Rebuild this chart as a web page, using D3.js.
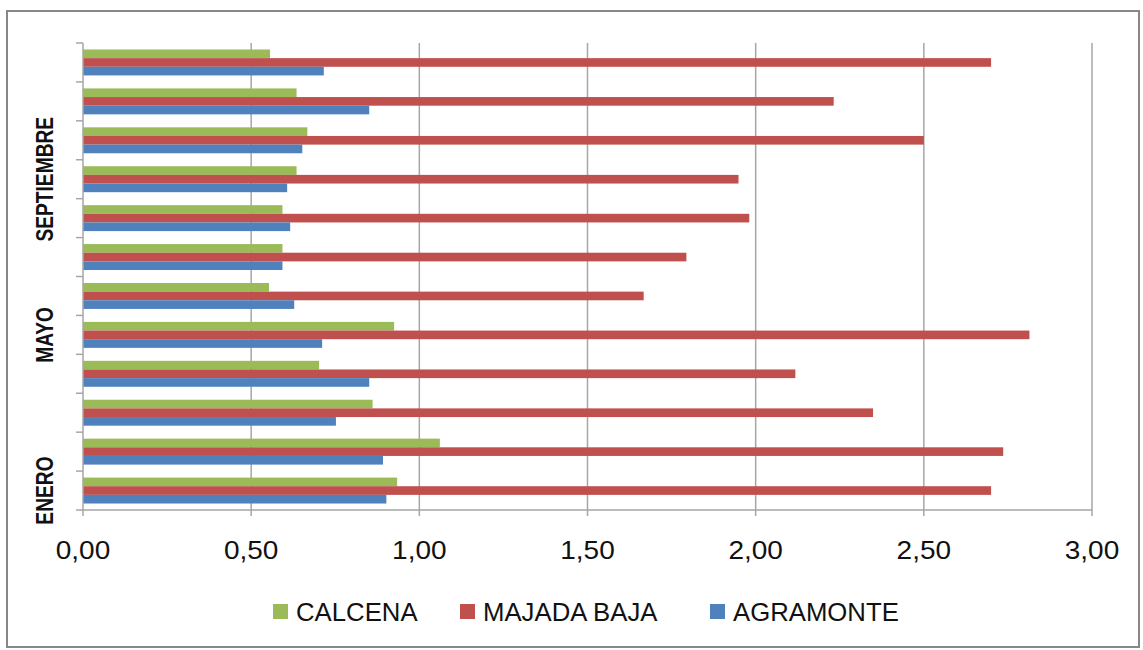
<!DOCTYPE html>
<html>
<head>
<meta charset="utf-8">
<script src="https://cdn.jsdelivr.net/npm/d3@7"></script>
<style>
  html, body { margin: 0; padding: 0; background: #ffffff; }
  svg { display: block; }
</style>
</head>
<body>
<svg id="chart" width="1143" height="650"></svg>
<script>
// ---- data ----
const months = ["ENERO","FEBRERO","MARZO","ABRIL","MAYO","JUNIO","JULIO","AGOSTO","SEPTIEMBRE","OCTUBRE","NOVIEMBRE","DICIEMBRE"];
const seriesNames = ["CALCENA","MAJADA BAJA","AGRAMONTE"];
const calcena   = [0.934, 1.061, 0.861, 0.702, 0.925, 0.553, 0.593, 0.593, 0.635, 0.667, 0.635, 0.556];
const majadaBaja = [2.700, 2.736, 2.349, 2.118, 2.814, 1.667, 1.794, 1.981, 1.949, 2.500, 2.232, 2.700];
const agramonte = [0.902, 0.892, 0.752, 0.851, 0.711, 0.628, 0.593, 0.616, 0.607, 0.652, 0.851, 0.716];
const xTicks = [0, 0.5, 1, 1.5, 2, 2.5, 3];
const labelEvery = 4;

const colors = { "CALCENA": "#9BBB59", "MAJADA BAJA": "#C0504D", "AGRAMONTE": "#4F81BD" };
const valuesBySeries = { "CALCENA": calcena, "MAJADA BAJA": majadaBaja, "AGRAMONTE": agramonte };

// ---- layout ----
const svg = d3.select("#chart");
const plot = { left: 83, right: 1092, top: 43, bottom: 510 };
const gridColor = "#a6a6a6";
const font = "'Liberation Sans', Arial, sans-serif";

svg.append("rect").attr("x", 0).attr("y", 0).attr("width", 1143).attr("height", 650).attr("fill", "#fff");
svg.append("rect")
  .attr("x", 7).attr("y", 11).attr("width", 1132).attr("height", 636)
  .attr("fill", "none").attr("stroke", "#878787").attr("stroke-width", 2);

const x = d3.scaleLinear().domain([0, 3]).range([plot.left, plot.right]);
const y = d3.scaleBand()
  .domain(months.slice().reverse())
  .range([plot.top, plot.bottom])
  .paddingInner(1/3).paddingOuter(1/6);
const ySub = d3.scaleBand().domain(seriesNames).range([0, y.bandwidth()]);
const yBound = d3.scaleLinear().domain([0, months.length]).range([plot.bottom, plot.top]);

// gridlines
svg.append("g").selectAll("line").data(xTicks.filter(d => d > 0)).join("line")
  .attr("x1", d => x(d)).attr("x2", d => x(d))
  .attr("y1", plot.top).attr("y2", plot.bottom)
  .attr("stroke", gridColor).attr("stroke-width", 1.5);

// bars
const rows = months.map((m, i) => ({ m, i }));
const groups = svg.append("g").selectAll("g").data(rows).join("g")
  .attr("transform", d => `translate(0,${y(d.m)})`);
groups.selectAll("rect").data(d => seriesNames.map(s => ({ s, v: valuesBySeries[s][d.i] }))).join("rect")
  .attr("x", x(0))
  .attr("y", d => ySub(d.s))
  .attr("width", d => x(d.v) - x(0))
  .attr("height", ySub.bandwidth())
  .attr("fill", d => colors[d.s]);

// left axis
svg.append("line")
  .attr("x1", x(0)).attr("x2", x(0)).attr("y1", plot.top).attr("y2", plot.bottom)
  .attr("stroke", gridColor).attr("stroke-width", 1.5);
svg.append("g").selectAll("line").data(d3.range(months.length + 1)).join("line")
  .attr("x1", x(0) - 7).attr("x2", x(0))
  .attr("y1", d => yBound(d)).attr("y2", d => yBound(d))
  .attr("stroke", gridColor).attr("stroke-width", 1.5);

// bottom axis
svg.append("line")
  .attr("x1", x(0)).attr("x2", x(3)).attr("y1", plot.bottom).attr("y2", plot.bottom)
  .attr("stroke", gridColor).attr("stroke-width", 1.5);
svg.append("g").selectAll("line").data(xTicks).join("line")
  .attr("x1", d => x(d)).attr("x2", d => x(d))
  .attr("y1", plot.bottom).attr("y2", plot.bottom + 6)
  .attr("stroke", gridColor).attr("stroke-width", 1.5);

const fmt = d => d3.format(".2f")(d).replace(".", ",");
svg.append("g").selectAll("text").data(xTicks).join("text")
  .attr("transform", d => `translate(${x(d)},559) scale(1.12,1)`)
  .attr("text-anchor", "middle")
  .attr("font-family", font).attr("font-size", 25).attr("fill", "#111")
  .text(fmt);

// category labels (every 4th)
svg.append("g").selectAll("text")
  .data(months.filter((m, i) => i % labelEvery === 0)).join("text")
  .attr("transform", d => `translate(53,${y(d) + y.bandwidth() / 2}) rotate(-90) scale(1,1.22)`)
  .attr("text-anchor", "middle")
  .attr("font-family", font).attr("font-size", 19.2).attr("font-weight", "bold").attr("fill", "#111")
  .text(d => d);

// legend
const legendPos = { "CALCENA": 273, "MAJADA BAJA": 460, "AGRAMONTE": 710 };
const lg = svg.append("g").selectAll("g").data(seriesNames).join("g")
  .attr("transform", d => `translate(${legendPos[d]},604)`);
lg.append("rect").attr("x", 0).attr("y", 0).attr("width", 15).attr("height", 15)
  .attr("fill", d => colors[d]);
lg.append("text")
  .attr("transform", "translate(23,17) scale(1.03,1)")
  .attr("font-family", font).attr("font-size", 25).attr("fill", "#111")
  .text(d => d);
</script>
</body>
</html>
